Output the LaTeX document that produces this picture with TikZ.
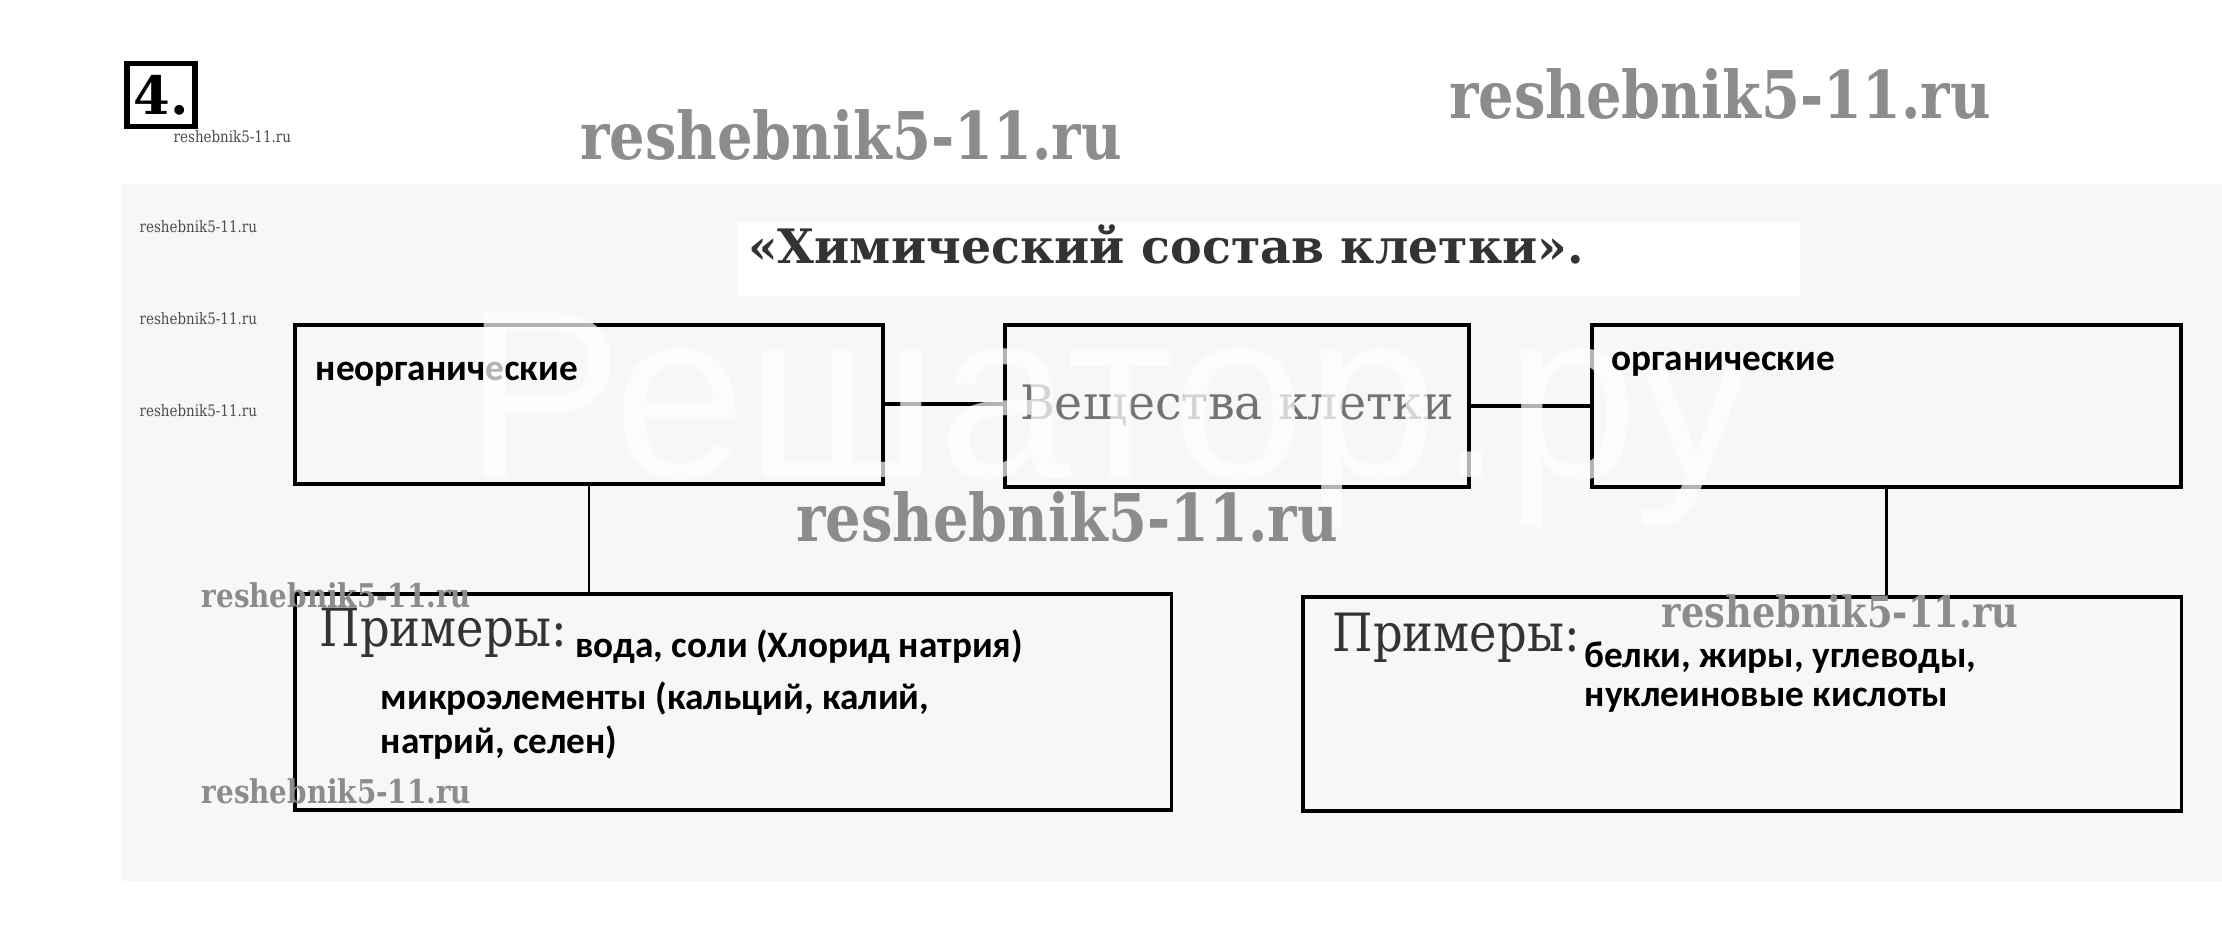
\documentclass[tikz,border=0pt]{standalone}
\usepackage{fontspec}
\usepackage{tikz}
\usetikzlibrary{positioning}
\setmainfont{DejaVu Serif}
\newfontfamily\boxfont{Carlito}
\newfontfamily\headfont[FakeStretch=0.88]{DejaVu Serif}
\newfontfamily\markfont[FakeStretch=0.85]{DejaVu Serif}
\newfontfamily\stampfont{Liberation Sans}
\definecolor{PanelGray}{HTML}{F7F7F7}
\definecolor{TitleGray}{HTML}{333333}

\begin{document}
\begin{tikzpicture}[x=0.01cm, y=-0.01cm]
        \useasboundingbox (0,0) rectangle (2222,941);
        \tikzstyle{BoxStyle} = [draw, line width=1pt, inner sep=0pt]
        \tikzstyle{LinkStyle} = [line width=1.2pt]
        \tikzstyle{StemStyle} = [line width=0.6pt]
        \tikzstyle{TextStyle} = [anchor=west, inner sep=0pt, font=\boxfont\bfseries\fontsize{10.6}{13}\selectfont]
        \tikzstyle{HeadStyle} = [anchor=west, inner sep=0pt, text=black!80, font=\headfont\fontsize{15}{17}\selectfont]
        \tikzstyle{MarkStyle} = [inner sep=0pt, text=black!45, font=\markfont\bfseries]
        % page and panel
        \fill[PanelGray] (122,184) rectangle (2222,881);
        \fill[white] (737,222) rectangle (1800,296);
        \node[draw, line width=1.6pt, inner sep=1pt, minimum width=0.68cm, minimum height=0.63cm,
              font=\bfseries\fontsize{15}{15}\selectfont] (num) at (161,95) {4.};
        \node[inner sep=0pt, text=TitleGray, font=\bfseries\fontsize{13.5}{15}\selectfont]
              (title) at (1166,244) {«Химический состав клетки».};
        % boxes
        \node[BoxStyle, anchor=north west, minimum width=5.88cm, minimum height=1.59cm] (inorg) at (293,323) {};
        \node[BoxStyle, anchor=north west, minimum width=4.64cm, minimum height=1.62cm,
              text=black!55, font=\fontsize{13.5}{15}\selectfont] (cell) at (1003,323) {Вещества клетки};
        \node[BoxStyle, anchor=north west, minimum width=5.89cm, minimum height=1.62cm] (org) at (1590,323) {};
        \node[BoxStyle, anchor=north west, minimum width=8.76cm, minimum height=2.16cm] (exinorg) at (293,592) {};
        \node[BoxStyle, anchor=north west, minimum width=8.78cm, minimum height=2.14cm] (exorg) at (1301,595) {};
        % links
        \draw[LinkStyle] (inorg.east) -- (inorg.east -| cell.west);
        \draw[LinkStyle] (cell.east) -- (cell.east -| org.west);
        \draw[StemStyle] (inorg.south) -- (inorg.south |- exinorg.north);
        \draw[StemStyle] (org.south) -- (org.south |- exorg.north);
        % texts
        \node[TextStyle] (inorgtxt) at (315,374) {неорганические};
        \node[inner sep=0pt, text=white, opacity=0.7, font=\stampfont\fontsize{68}{68}\selectfont]
              (stamp) at (1110,420) {Решатор.ру};
        \node[TextStyle] (orgtxt) at (1611,364) {органические};
        \node[HeadStyle] (exinorghead) at (319,633) {Примеры:};
        \node[TextStyle, anchor=base west] (exinorg1) at ([xshift=2pt, yshift=-3pt]exinorghead.base east) {вода, соли (Хлорид натрия)};
        \node[TextStyle] (exinorg2) at (380,699) {микроэлементы (кальций, калий,};
        \node[TextStyle] (exinorg3) at (380,743) {натрий, селен)};
        \node[HeadStyle] (exorghead) at (1332,638) {Примеры:};
        \node[TextStyle] (exorg1) at (1584,658) {белки, жиры, углеводы,};
        \node[TextStyle] (exorg2) at (1584,700) {нуклеиновые кислоты};
        % watermarks
        \node[MarkStyle, font=\markfont\bfseries\fontsize{18.7}{18.7}\selectfont] (mark1) at (851,135) {reshebnik5-11.ru};
        \node[MarkStyle, font=\markfont\bfseries\fontsize{18.7}{18.7}\selectfont] (mark2) at (1720,94) {reshebnik5-11.ru};
        \node[MarkStyle, font=\markfont\bfseries\fontsize{18.7}{18.7}\selectfont] (mark3) at (1067,517) {reshebnik5-11.ru};
        \node[MarkStyle, anchor=west, font=\markfont\bfseries\fontsize{9.3}{9.3}\selectfont] (mark4) at (201,595) {reshebnik5-11.ru};
        \node[MarkStyle, anchor=west, font=\markfont\bfseries\fontsize{9.3}{9.3}\selectfont] (mark5) at (201,791) {reshebnik5-11.ru};
        \node[MarkStyle, font=\markfont\bfseries\fontsize{12.3}{12.3}\selectfont] (mark6) at (1840,611) {reshebnik5-11.ru};
        \foreach \y/\n in {227/a, 319/b, 411/c}
            \node[MarkStyle, anchor=west, text=black!70, font=\markfont\fontsize{4.5}{4.5}\selectfont] (small\n) at (139,\y) {reshebnik5-11.ru};
        \node[MarkStyle, anchor=west, text=black!70, font=\markfont\fontsize{4.5}{4.5}\selectfont] (smalld) at (173,137) {reshebnik5-11.ru};
    \end{tikzpicture}
\end{document}
